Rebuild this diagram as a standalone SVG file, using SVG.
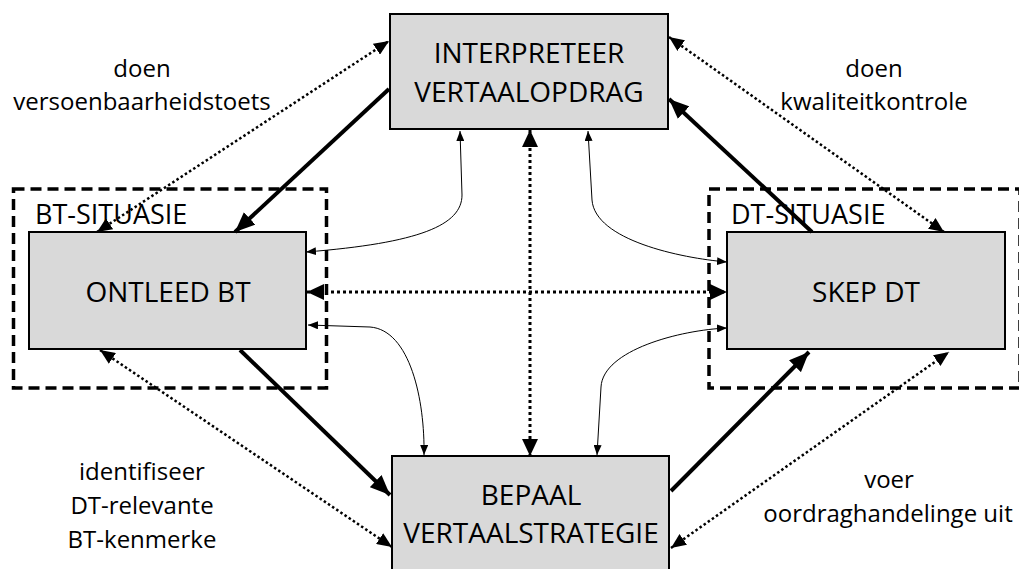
<svg xmlns="http://www.w3.org/2000/svg" width="1019" height="569" viewBox="0 0 1019 569">
<style>
.box{fill:#d9d9d9;stroke:#000;stroke-width:2}
.sit{fill:none;stroke:#000;stroke-width:3.5;stroke-dasharray:11 6}
.t{font-family:"Open Sans","Liberation Sans",sans-serif;fill:#000}
.bt{font-size:28px;text-anchor:middle}
.lb{font-size:24px;text-anchor:middle}
.st{font-size:27px}
.thick{fill:none;stroke:#000;stroke-width:4;marker-end:url(#big)}
.dot{fill:none;stroke:#000;stroke-width:2.5;stroke-dasharray:2.5 2.5;marker-start:url(#dh);marker-end:url(#dh)}
.dotc{fill:none;stroke:#000;stroke-width:3;stroke-dasharray:3 3;marker-start:url(#dc);marker-end:url(#dc)}
.thin{fill:none;stroke:#000;stroke-width:1;marker-start:url(#sm);marker-end:url(#sm)}
</style>
<defs>
<marker id="big" markerUnits="userSpaceOnUse" viewBox="0 0 20 17" refX="20" refY="8.5" markerWidth="20" markerHeight="17" orient="auto-start-reverse"><path d="M0,0 L20,8.5 L0,17 z" fill="#000"/></marker>
<marker id="dc" markerUnits="userSpaceOnUse" viewBox="0 0 17 16" refX="17" refY="8" markerWidth="17" markerHeight="16" orient="auto-start-reverse"><path d="M0,0 L17,8 L0,16 z" fill="#000"/></marker>
<marker id="dh" markerUnits="userSpaceOnUse" viewBox="0 0 15 13" refX="15" refY="6.5" markerWidth="15" markerHeight="13" orient="auto-start-reverse"><path d="M0,0 L15,6.5 L0,13 z" fill="#000"/></marker>
<marker id="sm" markerUnits="userSpaceOnUse" viewBox="0 0 10 8" refX="10" refY="4" markerWidth="10" markerHeight="8" orient="auto-start-reverse"><path d="M0,0 L10,4 L0,8 z" fill="#000"/></marker>
</defs>
<g id="bt-situasie">
<rect class="sit" x="13.5" y="189" width="313" height="199"/>
<text class="t st" x="35" y="224">BT-SITUASIE</text>
</g>
<g id="dt-situasie">
<rect class="sit" x="709" y="189" width="311" height="199"/>
<text class="t st" x="731" y="224">DT-SITUASIE</text>
</g>
<g id="interpreteer">
<rect class="box" x="390" y="14" width="278" height="115"/>
<text class="t bt" x="529" y="63">INTERPRETEER</text>
<text class="t bt" x="529" y="102">VERTAALOPDRAG</text>
</g>
<g id="ontleed">
<rect class="box" x="29" y="232" width="277" height="117"/>
<text class="t bt" x="168" y="302">ONTLEED BT</text>
</g>
<g id="skep">
<rect class="box" x="727" y="232" width="278" height="117"/>
<text class="t bt" x="866" y="302">SKEP DT</text>
</g>
<g id="bepaal">
<rect class="box" x="392" y="456" width="277" height="125"/>
<text class="t bt" x="531" y="505">BEPAAL</text>
<text class="t bt" x="531" y="543">VERTAALSTRATEGIE</text>
</g>
<g id="labels">
<text class="t lb" x="142" y="77">doen</text>
<text class="t lb" x="142" y="110">versoenbaarheidstoets</text>
<text class="t lb" x="874" y="77">doen</text>
<text class="t lb" x="874" y="110">kwaliteitkontrole</text>
<text class="t lb" x="142" y="480">identifiseer</text>
<text class="t lb" x="142" y="514">DT-relevante</text>
<text class="t lb" x="142" y="548">BT-kenmerke</text>
<text class="t lb" x="889" y="488">voer</text>
<text class="t lb" x="888" y="522">oordraghandelinge uit</text>
</g>
<g id="connectors">
<path class="thick" d="M389,89 L235,232"/>
<path class="thick" d="M812,232 L669,99"/>
<path class="thick" d="M240,350 L390,495"/>
<path class="thick" d="M671,491 L809,352"/>
<path class="dot" d="M97,232 L389,41"/>
<path class="dot" d="M669,37 L944,232"/>
<path class="dot" d="M100,350 L392,547"/>
<path class="dot" d="M671,548 L949,352"/>
<path class="dotc" d="M530,130 L530,456"/>
<path class="dotc" d="M307,292 L727,292"/>
<path class="thin" d="M306,252 C420,243 462,225 462,195 L460,131"/>
<path class="thin" d="M588,131 L592,200 C595,240 680,258 727,262"/>
<path class="thin" d="M308,325 L370,327 C410,330 425,400 424,455"/>
<path class="thin" d="M597,455 L601,387 C603,350 680,330 727,328"/>
</g>
</svg>
